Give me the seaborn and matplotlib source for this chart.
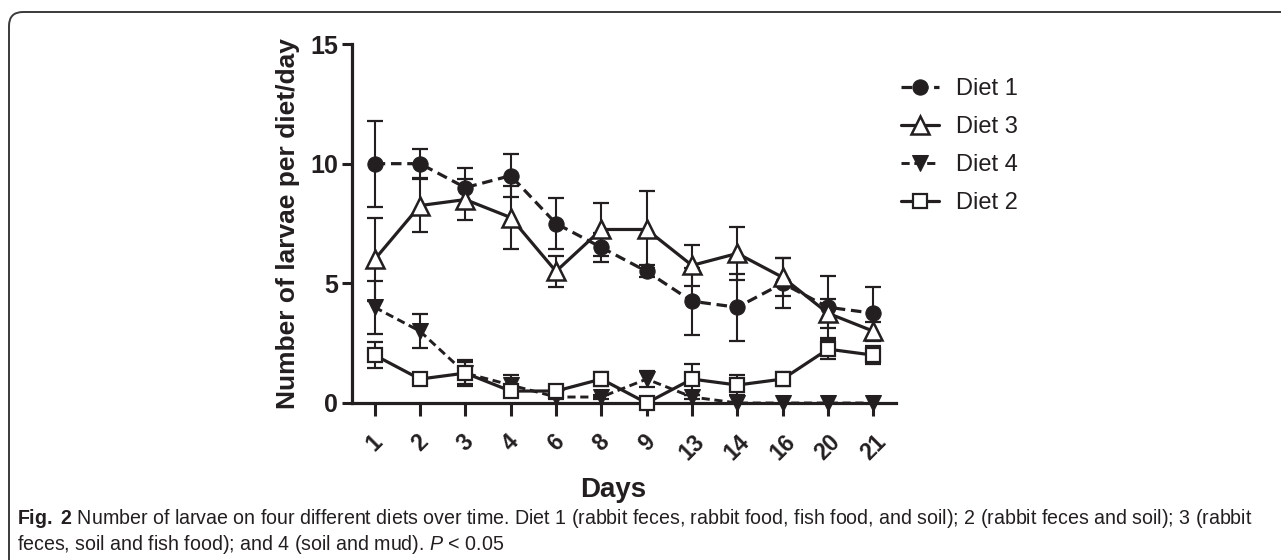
import numpy as np
import pandas as pd
import matplotlib
matplotlib.use("Agg")
import matplotlib.pyplot as plt
from matplotlib import font_manager
from matplotlib.patches import FancyBboxPatch
import seaborn as sns

# ---------------- data ----------------
days = ["1", "2", "3", "4", "6", "8", "9", "13", "14", "16", "20", "21"]
diet1 = [10.0, 10.0, 9.0, 9.5, 7.5, 6.5, 5.5, 4.25, 4.0, 5.0, 4.0, 3.75]
diet1_err = [1.8, 0.6, 0.8, 0.9, 1.05, 0.6, 0.25, 1.4, 1.4, 1.05, 1.3, 1.1]
diet3 = [6.0, 8.25, 8.5, 7.75, 5.5, 7.25, 7.25, 5.75, 6.25, 5.25, 3.75, 3.0]
diet3_err = [1.75, 1.1, 0.85, 1.3, 0.65, 1.1, 1.6, 0.85, 1.1, 0.8, 0.6, 0.4]
diet4 = [4.0, 3.0, 1.25, 0.75, 0.25, 0.25, 1.0, 0.25, 0.0, 0.0, 0.0, 0.0]
diet4_err = [1.1, 0.7, 0.55, 0.4, 0.1, 0.1, 0.35, 0.1, 0.0, 0.0, 0.0, 0.0]
diet2 = [2.0, 1.0, 1.25, 0.5, 0.5, 1.0, 0.0, 1.0, 0.75, 1.0, 2.25, 2.0]
diet2_err = [0.55, 0.0, 0.45, 0.25, 0.1, 0.3, 0.0, 0.65, 0.4, 0.3, 0.4, 0.38]
legend_order = ["Diet 1", "Diet 3", "Diet 4", "Diet 2"]
yticks = [0, 5, 10, 15]
xlabel = "Days"
ylabel = "Number of larvae per diet/day"
caption1 = (r"$\bf{Fig.\ 2}$ Number of larvae on four different diets over time. "
            r"Diet 1 (rabbit feces, rabbit food, fish food, and soil); "
            r"2 (rabbit feces and soil); 3 (rabbit")
caption2 = r"feces, soil and fish food); and 4 (soil and mud). $\it{P}$ < 0.05"

# ---------------- style ----------------
sns.set_theme(style="ticks")
plt.rcParams["font.family"] = ["Liberation Sans", "DejaVu Sans"]
INK = "#231f20"

def has_font(name):
    try:
        font_manager.findfont(name, fallback_to_default=False)
        return True
    except Exception:
        return False

cap_font = "Liberation Sans Narrow" if has_font("Liberation Sans Narrow") else "Liberation Sans"
plt.rcParams["mathtext.fontset"] = "custom"
plt.rcParams["mathtext.rm"] = cap_font
plt.rcParams["mathtext.it"] = cap_font + ":italic"
plt.rcParams["mathtext.bf"] = cap_font + ":bold"

W, H = 1281, 560
fig = plt.figure(figsize=(W / 100, H / 100), dpi=100)
fig.patch.set_facecolor("white")

# rounded frame (right and bottom edges run off the canvas)
frame = FancyBboxPatch((0.09, -1.0), 20.0, 5.6 - 0.12 + 1.0,
                       boxstyle="round,pad=0,rounding_size=0.14",
                       transform=fig.dpi_scale_trans, facecolor="none",
                       edgecolor="#3a3a3a", linewidth=1.4)
fig.patches.append(frame)

ax_l, ax_r, ax_t, ax_b = 352, 896, 44, 403
ax = fig.add_axes([ax_l / W, 1 - ax_b / H, (ax_r - ax_l) / W, (ax_b - ax_t) / H])
ax.set_facecolor("none")

pos = np.arange(len(days))

series = [
    ("Diet 1", diet1, diet1_err, dict(marker="o", markersize=11, markerfacecolor=INK,
                                      markeredgecolor=INK, linestyle=(0, (3.3, 1.8)), linewidth=2.3)),
    ("Diet 3", diet3, diet3_err, dict(marker="^", markersize=13, markerfacecolor="white",
                                      markeredgecolor=INK, markeredgewidth=1.8, linestyle="-", linewidth=2.3)),
    ("Diet 4", diet4, diet4_err, dict(marker="v", markersize=11, markerfacecolor=INK,
                                      markeredgecolor=INK, linestyle=(0, (2.8, 1.6)), linewidth=2.1)),
    ("Diet 2", diet2, diet2_err, dict(marker="s", markersize=10, markerfacecolor="white",
                                      markeredgecolor=INK, markeredgewidth=1.6, linestyle="-", linewidth=2.3)),
]

handles = {}
for name, vals, err, kw in series:
    vals = np.asarray(vals, dtype=float)
    err = np.asarray(err, dtype=float)
    m = err > 0
    ax.errorbar(pos[m], vals[m], yerr=err[m], fmt="none", ecolor=INK,
                elinewidth=1.5, capsize=6, capthick=1.6, clip_on=False, zorder=3)
    df = pd.DataFrame({"x": pos, "y": vals})
    sns.lineplot(data=df, x="x", y="y", ax=ax, color=INK, label=name,
                 clip_on=False, zorder=4, **kw)

for ln in ax.get_lines():
    handles[ln.get_label()] = ln

ax.set_xlim(-0.5, len(days) - 0.5)
ax.set_ylim(0, 15)
ax.set_yticks(yticks)
ax.set_yticklabels([str(t) for t in yticks])
ax.set_xticks(pos)
ax.set_xticklabels(days, rotation=45, ha="center")

sns.despine(ax=ax)
for s in ["left", "bottom"]:
    ax.spines[s].set_linewidth(2.3)
    ax.spines[s].set_color(INK)
    ax.spines[s].set_zorder(2)

ax.tick_params(axis="y", length=7, width=2.2, color=INK, pad=3,
               labelsize=18, labelcolor=INK)
ax.tick_params(axis="x", length=9.5, width=2.2, color=INK, pad=10,
               labelsize=16.5, labelcolor=INK)
for lab in ax.get_xticklabels() + ax.get_yticklabels():
    lab.set_fontweight("bold")

ax.set_xlabel(xlabel, fontsize=20, fontweight="bold", color=INK)
ax.set_ylabel(ylabel, fontsize=19, fontweight="bold", color=INK)
ax.yaxis.set_label_coords(-(ax_l - 300) / (ax_r - ax_l), 0.5)
ax.xaxis.set_label_coords(0.48, -(497 - ax_b) / (ax_b - ax_t))
ax.xaxis.label.set_va("baseline")

leg = ax.legend([handles[n] for n in legend_order], legend_order,
                loc="upper left", bbox_to_anchor=(901 / W, 1 - 75 / H),
                bbox_transform=fig.transFigure, frameon=False, fontsize=17,
                borderpad=0, borderaxespad=0, handlelength=1.6,
                handletextpad=0.75, labelspacing=0.68)
for t in leg.get_texts():
    t.set_color(INK)

# caption
c1 = fig.text(17 / W, 1 - 524 / H, caption1, fontsize=13, color=INK,
              ha="left", va="baseline")
c2 = fig.text(17 / W, 1 - 550 / H, caption2, fontsize=13, color=INK,
              ha="left", va="baseline")
fig.canvas.draw()
w = c1.get_window_extent().width
fs = 13 * (1232 / w)
c1.set_fontsize(fs)
c2.set_fontsize(fs)

fig.canvas.draw()
# place legend so that the "Diet 4" row centre sits at y = 165 px from the top
t4 = leg.get_texts()[2].get_window_extent()
cur = H - (t4.y0 + t4.y1) / 2
shift = 165 - cur
leg.set_bbox_to_anchor((901 / W, 1 - (75 + shift) / H), transform=fig.transFigure)

fig.savefig("out.png", dpi=100, facecolor="white")
